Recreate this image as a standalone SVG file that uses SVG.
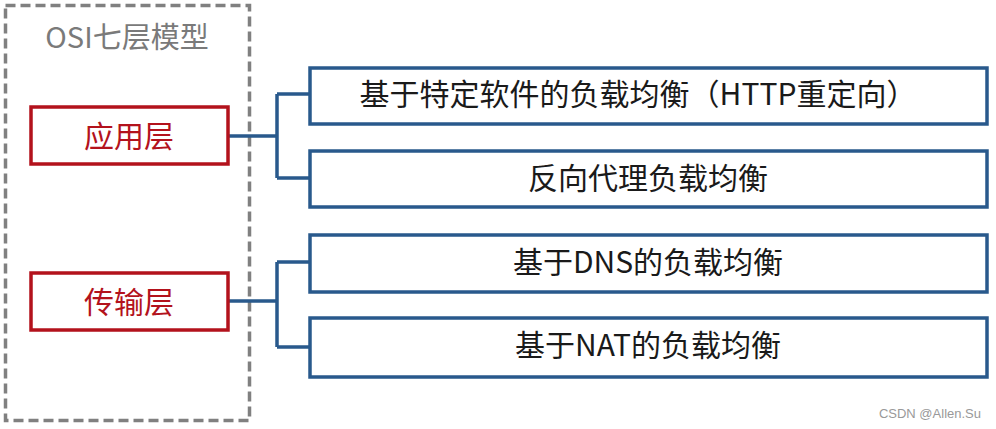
<svg xmlns="http://www.w3.org/2000/svg" width="996" height="429" viewBox="0 0 996 429">
  <style>
    .zh { font-family: "Noto Sans CJK SC", "Noto Sans", sans-serif; }
    .layer { fill: #ffffff; stroke: #b3121c; stroke-width: 3.5; }
    .layer-text { fill: #b3121c; font-size: 30px; text-anchor: middle; }
    .item { fill: #ffffff; stroke: #29598c; stroke-width: 3.5; }
    .item-text { fill: #1a1a1a; font-size: 30px; text-anchor: middle; }
    .conn { fill: none; stroke: #29598c; stroke-width: 3.5; stroke-linejoin: miter; }
  </style>
  <rect width="996" height="429" fill="#ffffff"/>

  <g id="osi-frame">
    <rect x="5.5" y="5.5" width="244" height="415" fill="none" stroke="#808080" stroke-width="3.5" stroke-dasharray="10 5"/>
    <text class="zh" x="127" y="48" font-size="29" fill="#7a7a7a" text-anchor="middle">OSI七层模型</text>
  </g>

  <g id="connectors">
    <path class="conn" d="M228 136 H277 M277 94 V178 M277 94 H310 M277 178 H310"/>
    <path class="conn" d="M228 301 H277 M277 262 V347 M277 262 H310 M277 347 H310"/>
  </g>

  <g id="app-layer">
    <rect class="layer" x="31" y="107" width="197" height="57"/>
    <text class="zh layer-text" x="129" y="147">应用层</text>
  </g>

  <g id="transport-layer">
    <rect class="layer" x="31" y="273" width="197" height="57"/>
    <text class="zh layer-text" x="129" y="313">传输层</text>
  </g>

  <g id="http-redirect">
    <rect class="item" x="310" y="68" width="677" height="56"/>
    <text class="zh item-text" x="638" y="105">基于特定软件的负载均衡（HTTP重定向）</text>
  </g>

  <g id="reverse-proxy">
    <rect class="item" x="310" y="151" width="677" height="56"/>
    <text class="zh item-text" x="648" y="189">反向代理负载均衡</text>
  </g>

  <g id="dns-lb">
    <rect class="item" x="310" y="235" width="677" height="57"/>
    <text class="zh item-text" x="648" y="273">基于DNS的负载均衡</text>
  </g>

  <g id="nat-lb">
    <rect class="item" x="310" y="318" width="677" height="59"/>
    <text class="zh item-text" x="648" y="356">基于NAT的负载均衡</text>
  </g>

  <text x="981" y="418" font-family="Liberation Sans, Arial, sans-serif" font-size="13" fill="#999999" text-anchor="end">CSDN @Allen.Su</text>
</svg>
